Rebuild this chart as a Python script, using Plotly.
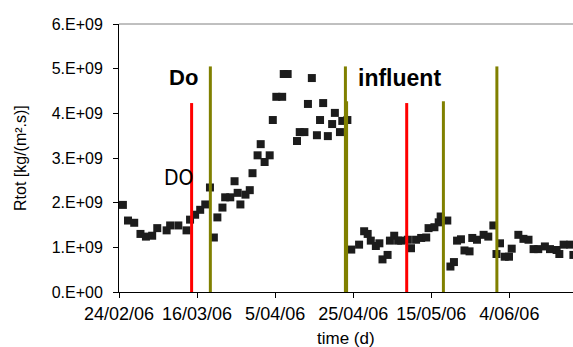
import pandas as pd
import plotly.graph_objects as go

# ---- data (days after 24/02/06, Rtot in 1e9 kg/(m2.s)) ----
start_date = "2006-02-24"
days = [1.0, 2.3, 3.9, 5.5, 6.9, 8.5, 9.8, 12.2, 13.1, 15.2, 17.3, 18.2, 19.5, 20.8,
        22.1, 23.3, 24.3, 25.2, 26.5, 27.2, 28.5, 29.6, 30.4, 31.1, 32.4, 33.5, 34.2,
        35.5, 36.3, 37.3, 38.6, 39.4, 40.3, 41.8, 42.2, 43.2, 45.6, 46.3, 47.5, 48.4,
        49.4, 50.7, 51.5, 52.3, 53.5, 54.6, 55.3, 56.6, 57.2, 58.5, 59.5, 61.5, 62.8,
        63.7, 64.5, 65.8, 66.7, 67.5, 68.8, 69.4, 70.5, 71.5, 72.3, 74.0, 74.8, 76.1,
        77.4, 78.7, 79.3, 80.8, 81.9, 82.4, 84.1, 84.9, 85.8, 86.6, 87.6, 88.5, 89.8,
        90.5, 91.7, 93.4, 94.6, 95.9, 96.7, 97.6, 98.8, 99.9, 100.6, 102.3, 103.6,
        104.9, 106.2, 107.4, 109.1, 110.4, 112.1, 112.8, 113.9, 115.6, 116.4]
rtot = [1.95, 1.60, 1.55, 1.30, 1.24, 1.26, 1.43, 1.38, 1.49, 1.49, 1.38, 1.62, 1.73, 1.84,
        1.96, 2.34, 1.22, 1.67, 1.89, 2.12, 2.12, 2.48, 2.22, 1.96, 2.18, 2.28, 2.66,
        3.06, 3.31, 2.91, 3.06, 3.85, 4.37, 4.37, 4.88, 4.88, 3.38, 3.58, 3.58, 4.21,
        4.79, 3.51, 3.85, 4.23, 3.49, 3.76, 4.01, 3.58, 3.83, 3.85, 0.95, 1.06, 1.36,
        1.30, 1.15, 1.03, 1.09, 0.73, 0.83, 1.15, 1.26, 1.15, 1.15, 1.17, 0.98, 1.17,
        1.21, 1.22, 1.43, 1.45, 1.56, 1.69, 1.60, 0.57, 0.67, 1.15, 1.18, 0.93, 0.91,
        1.21, 1.17, 1.28, 1.24, 1.49, 0.85, 1.09, 0.79, 0.79, 0.97, 1.28, 1.19,
        1.17, 0.96, 0.96, 1.02, 0.96, 0.94, 0.85, 1.06, 1.06, 0.83]

red_days = [18.6, 73.7]
red_tops = [4.23, 4.23]
olive_days = [23.4, 58.0, 58.3, 83.1, 96.8]
olive_tops = [5.05, 5.05, 4.27, 4.27, 5.05]

tick_days = [0, 20, 40, 60, 80, 100]
tick_labels = ["24/02/06", "16/03/06", "5/04/06", "25/04/06", "15/05/06", "4/06/06"]
y_ticks = [0, 1, 2, 3, 4, 5, 6]
y_labels = ["0.E+00", "1.E+09", "2.E+09", "3.E+09", "4.E+09", "5.E+09", "6.E+09"]
x_end_day = 116.3

base = pd.Timestamp(start_date)
def to_date(d):
    return base + pd.to_timedelta(d, unit="D")

FONT = "Liberation Sans, Arial, sans-serif"

fig = go.Figure()
fig.add_trace(go.Scatter(
    x=[to_date(d) for d in days], y=[v * 1e9 for v in rtot],
    mode="markers",
    marker=dict(symbol="square", size=8, color="#1c1c1c", line=dict(width=0)),
    showlegend=False, hoverinfo="skip"))

for d, t in zip(red_days, red_tops):
    fig.add_trace(go.Scatter(x=[to_date(d), to_date(d)], y=[0, t * 1e9], mode="lines",
                             line=dict(color="#ff0000", width=3), showlegend=False,
                             hoverinfo="skip"))
for d, t in zip(olive_days, olive_tops):
    fig.add_trace(go.Scatter(x=[to_date(d), to_date(d)], y=[0, t * 1e9], mode="lines",
                             line=dict(color="#808000", width=3), showlegend=False,
                             hoverinfo="skip"))

fig.add_annotation(x=to_date(16.5), y=4.80e9, text="<b>Do</b>", showarrow=False,
                   font=dict(family=FONT, size=22, color="black"))
fig.add_annotation(x=to_date(71.8), y=4.80e9, text="<b>influent</b>", showarrow=False,
                   font=dict(family=FONT, size=23, color="black"))
fig.add_annotation(x=to_date(15.3), y=2.56e9, text="DO", showarrow=False,
                   font=dict(family="Liberation Sans Narrow, DejaVu Sans Condensed, sans-serif",
                             size=21, color="black"))

# axis titles
fig.add_annotation(xref="paper", yref="paper", x=0, y=0.5, xshift=-99, textangle=-90,
                   text="Rtot [kg/(m².s)]", showarrow=False, xanchor="center", yanchor="middle",
                   font=dict(family=FONT, size=16, color="black"))
fig.add_annotation(xref="paper", yref="paper", x=0.5, y=0, yshift=-46,
                   text="time (d)", showarrow=False, xanchor="center", yanchor="middle",
                   font=dict(family=FONT, size=17, color="black"))

# top border
fig.add_shape(type="line", xref="paper", yref="paper", x0=0, x1=1, y0=1, y1=1,
              line=dict(color="#808080", width=1))

fig.update_layout(
    width=573, height=347,
    margin=dict(l=119, r=0, t=24, b=55),
    paper_bgcolor="white", plot_bgcolor="white",
    font=dict(family=FONT, color="black"),
)
fig.update_xaxes(
    type="date", range=[to_date(0), to_date(x_end_day)], automargin=False,
    tickvals=[to_date(d) for d in tick_days], ticktext=tick_labels,
    ticks="outside", ticklen=5, tickcolor="black", tickwidth=1,
    showline=True, linecolor="black", linewidth=1, showgrid=False, zeroline=False,
    tickfont=dict(size=18),
)
fig.update_yaxes(
    range=[0, 6e9], automargin=False,
    tickvals=[v * 1e9 for v in y_ticks], ticktext=y_labels,
    ticks="outside", ticklen=5, tickcolor="black", tickwidth=1, ticklabelstandoff=7,
    showline=True, linecolor="black", linewidth=1, showgrid=False, zeroline=False,
    tickfont=dict(size=16),
)

fig.write_html("out.html", config={"displayModeBar": False},
               post_script="document.body.style.margin='0';document.body.style.overflow='hidden';")
